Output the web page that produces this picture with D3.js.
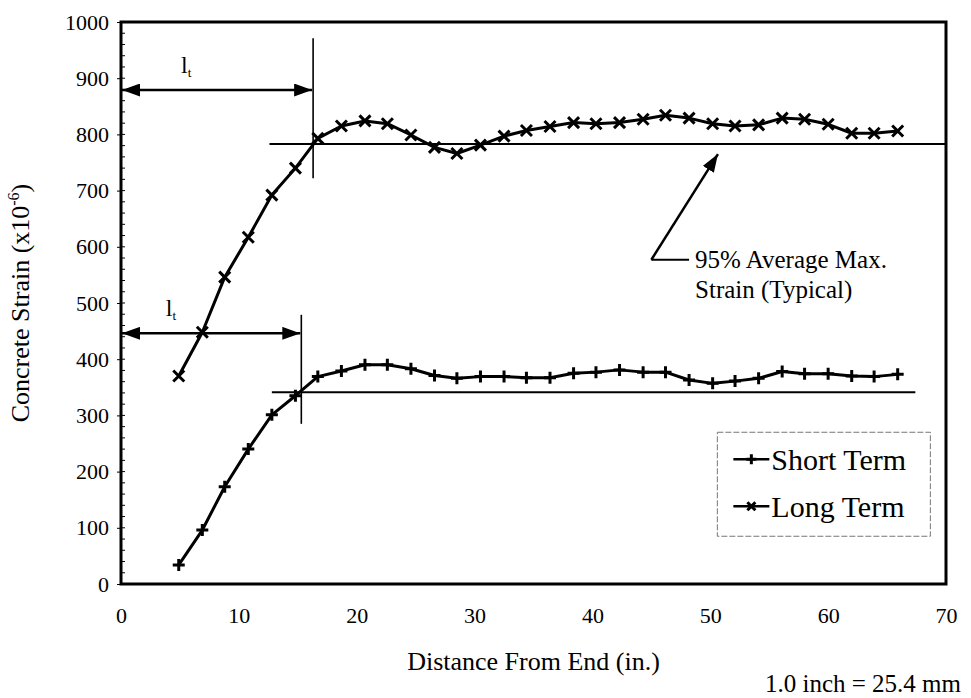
<!DOCTYPE html>
<html>
<head>
<meta charset='utf-8'>
<script src='https://cdn.jsdelivr.net/npm/d3@7'></script>
<style>
	body { margin: 0; background: #fff; }
	svg { display: block; font-family: 'Liberation Serif', 'DejaVu Serif', serif; }
</style>
</head>
<body>
<svg id='chart' width='971' height='698'></svg>
<script>
// distance of each gauge point from the member end (in.)
const distance = [4.9, 6.9, 8.8, 10.8, 12.8, 14.8, 16.7, 18.7, 20.7, 22.6, 24.6, 26.6, 28.5, 30.5, 32.5, 34.4,
	36.4, 38.4, 40.3, 42.3, 44.3, 46.2, 48.2, 50.2, 52.1, 54.1, 56.1, 58.0, 60.0, 62.0, 63.9, 65.9]
const shortTerm = [34, 96, 173, 240, 301, 335, 369, 379, 390, 390, 383, 371, 366, 369, 369, 367,
	367, 375, 377, 381, 377, 377, 363, 357, 361, 366, 378, 374, 374, 370, 369, 373]
const longTerm = [370, 448, 546, 617, 692, 740, 793, 815, 824, 819, 799, 777, 766, 781, 797, 807,
	814, 821, 819, 821, 827, 834, 829, 819, 815, 817, 829, 827, 818, 802, 802, 806]
const seriesNames = ['Short Term', 'Long Term']
const xTicks = [0, 10, 20, 30, 40, 50, 60, 70]
const yTicks = [0, 100, 200, 300, 400, 500, 600, 700, 800, 900, 1000]

// 95% average max strain lines: [value, from, to]
const shortRef = [341, 12.8, 67.4]
const longRef = [783, 12.6, 70]
// transfer length markers: [lt, arrow level, vertical from, vertical to, label x]
const shortLt = [15.3, 446, 285, 479, 3.8]
const longLt = [16.3, 879, 722, 971, 5.1]
// callout: elbow, end of short leg, arrow tip
const callout = [[48.2, 577], [45.0, 577], [50.65, 765]]

const width = 971
const height = 698
const margin = { left: 121, right: 25, top: 22, bottom: 114 }

const svg = d3.select('#chart')

const x = d3.scaleLinear().domain([0, 70]).range([margin.left, width - margin.right])
const y = d3.scaleLinear().domain([0, 1000]).range([height - margin.bottom, margin.top])

svg.append('defs')
	.append('marker')
	.attr('id', 'head')
	.attr('viewBox', '0 0 18 13')
	.attr('refX', 18)
	.attr('refY', 6.5)
	.attr('markerWidth', 18)
	.attr('markerHeight', 13)
	.attr('markerUnits', 'userSpaceOnUse')
	.attr('orient', 'auto-start-reverse')
	.append('path')
	.attr('d', 'M0,0 L18,6.5 L0,13 Z')
	.attr('fill', '#000')

// y ticks: minor inside, major a little outside
const minor = d3.range(0, 1001, 20)
svg.append('g')
	.selectAll('line')
	.data(minor)
	.join('line')
	.attr('x1', margin.left)
	.attr('x2', margin.left + 4)
	.attr('y1', d => y(d))
	.attr('y2', d => y(d))
	.attr('stroke', '#000')
	.attr('stroke-width', 1)

const yAxis = d3.axisLeft(y).tickValues(yTicks).tickSize(4).tickPadding(8).tickFormat(d3.format('d'))
svg.append('g')
	.attr('transform', `translate(${margin.left}, 0)`)
	.call(yAxis)
	.call(g => g.select('.domain').remove())
	.call(g => g.selectAll('text').style('font-size', '22px').style('font-family', 'Liberation Serif').attr('fill', '#000'))

const xAxis = d3.axisBottom(x).tickValues(xTicks).tickSize(0).tickPadding(23)
svg.append('g')
	.attr('transform', `translate(0, ${y(0)})`)
	.call(xAxis)
	.call(g => g.select('.domain').remove())
	.call(g => g.selectAll('text').style('font-size', '22px').style('font-family', 'Liberation Serif').attr('fill', '#000'))

// plot frame
svg.append('rect')
	.attr('x', x(0))
	.attr('y', y(1000))
	.attr('width', x(70) - x(0))
	.attr('height', y(0) - y(1000))
	.attr('fill', 'none')
	.attr('stroke', '#000')
	.attr('stroke-width', 3)

// reference lines
svg.append('g')
	.selectAll('line')
	.data([shortRef, longRef])
	.join('line')
	.attr('x1', d => x(d[1]))
	.attr('x2', d => x(d[2]))
	.attr('y1', d => y(d[0]))
	.attr('y2', d => y(d[0]))
	.attr('stroke', '#000')
	.attr('stroke-width', 2)

// transfer length verticals and arrows
const ltGroup = svg.append('g')
ltGroup.selectAll('.lt-v')
	.data([shortLt, longLt])
	.join('line')
	.attr('class', 'lt-v')
	.attr('x1', d => x(d[0]))
	.attr('x2', d => x(d[0]))
	.attr('y1', d => y(d[2]))
	.attr('y2', d => y(d[3]))
	.attr('stroke', '#000')
	.attr('stroke-width', 1.6)
ltGroup.selectAll('.lt-a')
	.data([shortLt, longLt])
	.join('line')
	.attr('class', 'lt-a')
	.attr('x1', x(0) + 1)
	.attr('x2', d => x(d[0]) - 1)
	.attr('y1', d => y(d[1]))
	.attr('y2', d => y(d[1]))
	.attr('stroke', '#000')
	.attr('stroke-width', 2.5)
	.attr('marker-start', 'url(#head)')
	.attr('marker-end', 'url(#head)')
const ltLabel = ltGroup.selectAll('.lt-t')
	.data([shortLt, longLt])
	.join('text')
	.attr('class', 'lt-t')
	.attr('x', d => x(d[4]))
	.attr('y', d => y(d[1]) - 17)
	.style('font-size', '24px')
	.text('l')
ltLabel.append('tspan')
	.attr('dy', 4)
	.style('font-size', '13px')
	.text('t')

// series
const line = d3.line().x(d => x(d[0])).y(d => y(d[1]))
const series = [
	{ name: seriesNames[0], points: d3.zip(distance, shortTerm), mark: 'plus' },
	{ name: seriesNames[1], points: d3.zip(distance, longTerm), mark: 'cross' },
]
const markPath = (type, s) =>
	type === 'plus' ? `M${-s},0H${s}M0,${-s}V${s}` : `M${-s},${-s}L${s},${s}M${-s},${s}L${s},${-s}`

series.forEach(sr => {
	svg.append('path')
		.datum(sr.points)
		.attr('d', line)
		.attr('fill', 'none')
		.attr('stroke', '#000')
		.attr('stroke-width', 3)
		.attr('stroke-linejoin', 'round')
	svg.append('g')
		.selectAll('path')
		.data(sr.points)
		.join('path')
		.attr('transform', d => `translate(${x(d[0])}, ${y(d[1])})`)
		.attr('d', markPath(sr.mark, sr.mark === 'plus' ? 6 : 5.5))
		.attr('stroke', '#000')
		.attr('stroke-width', 3)
})

// callout
svg.append('path')
	.attr('d', `M${x(callout[0][0])},${y(callout[0][1])}L${x(callout[1][0])},${y(callout[1][1])}`)
	.attr('fill', 'none')
	.attr('stroke', '#000')
	.attr('stroke-width', 2)
svg.append('line')
	.attr('x1', x(callout[1][0]))
	.attr('y1', y(callout[1][1]))
	.attr('x2', x(callout[2][0]))
	.attr('y2', y(callout[2][1]))
	.attr('stroke', '#000')
	.attr('stroke-width', 2.5)
	.attr('marker-end', 'url(#head)')
const callText = svg.append('text')
	.attr('x', x(callout[0][0]) + 6)
	.attr('y', y(callout[0][1]) + 8)
	.style('font-size', '25px')
callText.append('tspan').text('95% Average Max.')
callText.append('tspan')
	.attr('x', x(callout[0][0]) + 6)
	.attr('dy', 30)
	.text('Strain (Typical)')

// legend
const legend = svg.append('g').attr('transform', `translate(${x(50.6)}, ${y(270)})`)
legend.append('rect')
	.attr('width', 213)
	.attr('height', 104)
	.attr('fill', '#fff')
	.attr('stroke', '#777')
	.attr('stroke-width', 1)
	.attr('stroke-dasharray', '6 2')
const items = legend.selectAll('.item')
	.data(series)
	.join('g')
	.attr('class', 'item')
	.attr('transform', (d, i) => `translate(16, ${27 + i * 47})`)
items.append('line')
	.attr('x1', 0)
	.attr('x2', 36)
	.attr('stroke', '#000')
	.attr('stroke-width', 2.5)
items.append('path')
	.attr('transform', 'translate(18, 0)')
	.attr('d', d => markPath(d.mark, d.mark === 'plus' ? 5 : 4))
	.attr('stroke', '#000')
	.attr('stroke-width', 3)
items.append('text')
	.attr('x', 38)
	.attr('dy', '0.35em')
	.style('font-size', '30px')
	.text(d => d.name)

// axis titles
svg.append('text')
	.attr('x', (x(0) + x(70)) / 2)
	.attr('y', 670)
	.attr('text-anchor', 'middle')
	.style('font-size', '26px')
	.text('Distance From End (in.)')

const yTitle = svg.append('text')
	.attr('transform', `translate(29, ${(y(0) + y(1000)) / 2}) rotate(-90)`)
	.attr('text-anchor', 'middle')
	.style('font-size', '26px')
yTitle.append('tspan').text('Concrete Strain (x10')
yTitle.append('tspan').attr('dy', -10).style('font-size', '16px').text('-6')
yTitle.append('tspan').attr('dy', 10).text(')')

svg.append('text')
	.attr('x', 961)
	.attr('y', 692)
	.attr('text-anchor', 'end')
	.style('font-size', '25px')
	.text('1.0 inch = 25.4 mm')
</script>
</body>
</html>
